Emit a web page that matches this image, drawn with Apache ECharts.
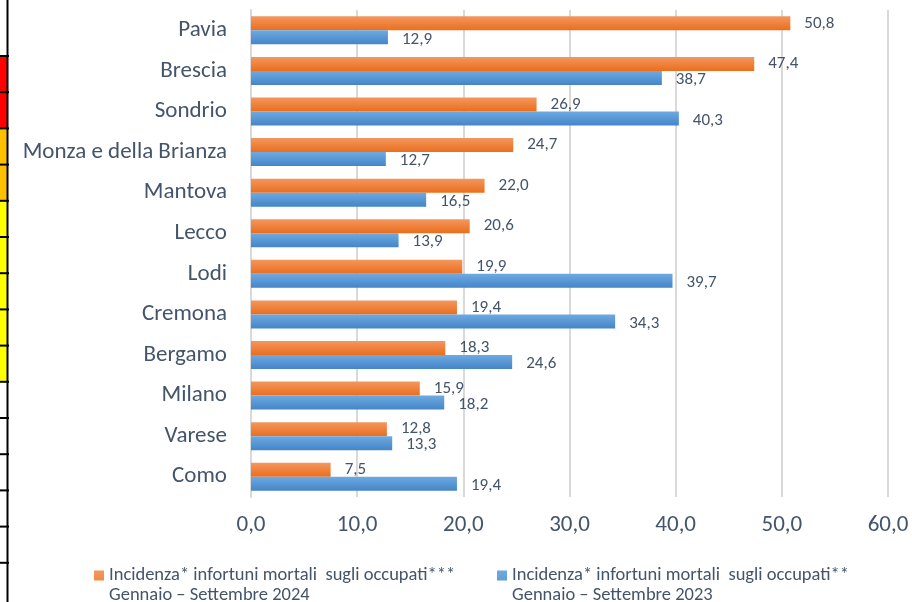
<!DOCTYPE html>
<html>
<head>
<meta charset="utf-8">
<script src="https://cdn.jsdelivr.net/npm/echarts@6/dist/echarts.min.js"></script>
<style>
html,body{margin:0;padding:0;background:#fff;}
#chart{width:912px;height:602px;}
</style>
</head>
<body>
<div id="chart"></div>
<script>
const categories = ['Pavia','Brescia','Sondrio','Monza e della Brianza','Mantova','Lecco','Lodi','Cremona','Bergamo','Milano','Varese','Como'];
const values2024 = [50.8,47.4,26.9,24.7,22.0,20.6,19.9,19.4,18.3,15.9,12.8,7.5];
const values2023 = [12.9,38.7,40.3,12.7,16.5,13.9,39.7,34.3,24.6,18.2,13.3,19.4];
const seriesNames = ['Incidenza* infortuni mortali  sugli occupati***\nGennaio – Settembre 2024',
                     'Incidenza* infortuni mortali  sugli occupati**\nGennaio – Settembre 2023'];
const stripColors = ['#FF0000','#FF0000','#FFC000','#FFC000','#FFFF00','#FFFF00','#FFFF00','#FFFF00','#FFFF00','#FFFFFF','#FFFFFF','#FFFFFF','#FFFFFF','#FFFFFF','#FFFFFF'];

const FONT = 'Carlito, Lato, sans-serif';
const TXT = '#44546A';
const fmt = v => Number(v).toFixed(1).replace('.', ',');

const chart = echarts.init(document.getElementById('chart'));

// left table strip (decorative fragment of cropped table)
const stripTop = 56, stripH = 36.2;
const graphics = [];
stripColors.forEach((c, i) => {
  graphics.push({type:'rect', shape:{x:0, y:stripTop + i*stripH, width:7, height:stripH}, style:{fill:c}, silent:true});
  graphics.push({type:'rect', shape:{x:0, y:stripTop + i*stripH - 1, width:9, height:2}, style:{fill:'#000'}, silent:true});
});
graphics.push({type:'rect', shape:{x:6.5, y:0, width:2, height:602}, style:{fill:'#000'}, silent:true});

const grad = (a, b) => new echarts.graphic.LinearGradient(0, 0, 0, 1, [{offset:0, color:a},{offset:1, color:b}]);
// square icon on top of a taller (invisible) box so it lines up with the first text line
const ICON = 'path://M0,0H10V10H0Z M9.99,29.99H10V30H9.99Z';

const legendBase = {itemWidth: 10, itemHeight: 30, icon: ICON, padding: 0,
  textStyle: {color: TXT, fontSize: 18.5, fontFamily: FONT, lineHeight: 20.5}};

chart.setOption({
  animation: false,
  color: ['#ED7D31', '#5B9BD5'],
  textStyle: {fontFamily: FONT},
  graphic: graphics,
  grid: {left: 251, right: 24, top: 10, bottom: 105, containLabel: false},
  xAxis: {
    type: 'value', min: 0, max: 60, interval: 10,
    axisLine: {show: false}, axisTick: {show: false},
    splitLine: {lineStyle: {color: '#D9D9D9', width: 2}},
    axisLabel: {formatter: fmt, color: TXT, fontSize: 23, fontFamily: FONT, margin: 17}
  },
  yAxis: {
    type: 'category', data: categories, inverse: true,
    axisLine: {lineStyle: {color: '#D9D9D9', width: 2}}, axisTick: {show: false},
    axisLabel: {color: TXT, fontSize: 23, fontFamily: FONT, margin: 24}
  },
  legend: [
    Object.assign({data: [seriesNames[0]], left: 94, top: 565}, legendBase),
    Object.assign({data: [seriesNames[1]], left: 497, top: 565}, legendBase)
  ],
  series: [
    {
      name: seriesNames[0], type: 'bar', data: values2024, barWidth: 14, barGap: '0%',
      itemStyle: {color: grad('#F4975E', '#EA6E1D')},
      label: {show: true, position: 'right', distance: 14, formatter: p => fmt(p.value), color: TXT, fontSize: 17, fontFamily: FONT}
    },
    {
      name: seriesNames[1], type: 'bar', data: values2023, barWidth: 14, barGap: '0%',
      itemStyle: {color: grad('#6EAAE1', '#4585C8')},
      label: {show: true, position: 'right', distance: 14, formatter: p => fmt(p.value), color: TXT, fontSize: 17, fontFamily: FONT, offset: [0, 2]}
    }
  ]
});
</script>
</body>
</html>
